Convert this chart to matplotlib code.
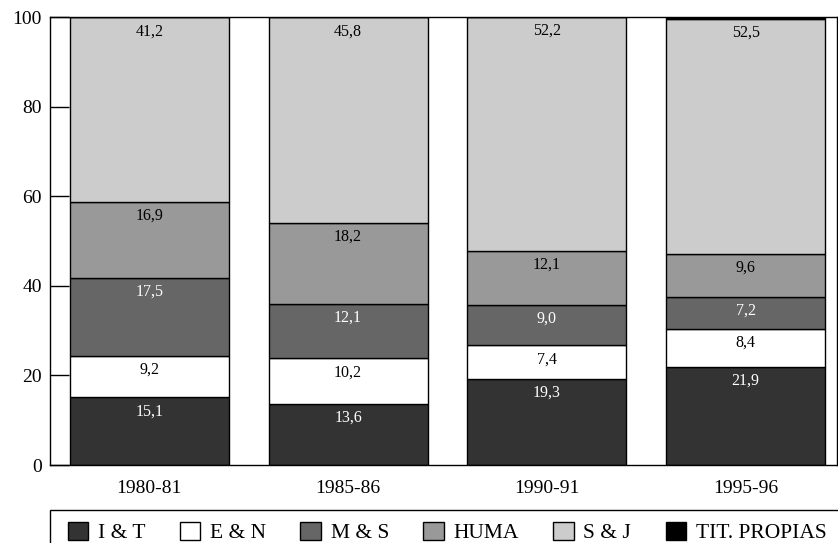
import matplotlib
matplotlib.use("Agg")
import matplotlib.pyplot as plt
from matplotlib.patches import Rectangle
import numpy as np

plt.rcParams['font.family'] = ['Liberation Serif', 'DejaVu Serif']

categories = ["1980-81", "1985-86", "1990-91", "1995-96"]
series_names = ["I & T", "E & N", "M & S", "HUMA", "S & J", "TIT. PROPIAS"]
i_t = [15.1, 13.6, 19.3, 21.9]
e_n = [9.2, 10.2, 7.4, 8.4]
m_s = [17.5, 12.1, 9.0, 7.2]
huma = [16.9, 18.2, 12.1, 9.6]
s_j = [41.2, 45.8, 52.2, 52.5]
tit = [0.0, 0.0, 0.0, 0.4]
series = [i_t, e_n, m_s, huma, s_j, tit]
colors = ["#333333", "#ffffff", "#666666", "#999999", "#cccccc", "#000000"]
label_colors = ["white", "black", "white", "black", "black", None]

W, H = 838, 543
fig = plt.figure(figsize=(W/100, H/100), dpi=100)
ax = fig.add_axes([50/W, (H-465)/H, (837-50)/W, (465-17)/H])

x = np.arange(len(categories))
bottom = np.zeros(len(categories))
handles = []
for vals, col, name, lc in zip(series, colors, series_names, label_colors):
    vals = np.array(vals)
    b = ax.bar(x, vals, 0.8, bottom=bottom, color=col, edgecolor="black",
               linewidth=1.0, label=name)
    handles.append(b)
    if lc is not None:
        for xi, v, bt in zip(x, vals, bottom):
            ax.text(xi, bt + v - 1.3, f"{v:.1f}".replace(".", ","),
                    ha="center", va="top", fontsize=11.5, color=lc)
    bottom += vals

ax.set_xlim(-0.5, 3.46)
ax.set_ylim(0, 100)
ax.set_yticks([0, 20, 40, 60, 80, 100])
ax.set_xticks(x)
ax.set_xticklabels(categories)
ax.tick_params(axis='y', direction='in', length=14, width=1, labelsize=14, pad=6)
ax.tick_params(axis='x', length=0, labelsize=14, pad=11)
for s in ax.spines.values():
    s.set_linewidth(1.0)

# legend frame (extends past the right and bottom edges, as in the reference)
fig.add_artist(Rectangle((50/W, -0.1), 1.0, 0.1 + 1 - 510/H,
                         transform=fig.transFigure, fill=False,
                         edgecolor="black", linewidth=1.0))

leg = fig.legend(handles=handles, labels=series_names, ncol=6,
                 loc='upper left', bbox_to_anchor=(57/W, 1 - 511/H),
                 borderaxespad=0, frameon=False,
                 fontsize=15.5, handlelength=0.95, handleheight=0.95,
                 handletextpad=0.45, columnspacing=1.6, borderpad=0.5)

fig.savefig("out.png", dpi=100)
